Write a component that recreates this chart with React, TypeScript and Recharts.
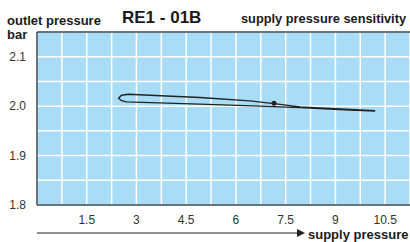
import {
  ComposedChart,
  Line,
  XAxis,
  YAxis,
  CartesianGrid,
  ReferenceLine,
  ReferenceDot,
} from 'recharts';

// hysteresis loop, in drawing order
const supply = [10.2, 9.44, 7.93, 7.15, 6.42, 4.91, 3.4, 2.76, 2.55, 2.46, 2.55, 2.7, 4.91, 6.72, 7.93, 9.44, 10.2];
const outlet = [1.991, 1.9934, 1.9986, 2.005, 2.0106, 2.0175, 2.022, 2.024, 2.022, 2.016, 2.011, 2.0087, 2.004, 2.0, 1.997, 1.992, 1.99];

const xTicks = [0, 0.75, 1.5, 2.25, 3, 3.75, 4.5, 5.25, 6, 6.75, 7.5, 8.25, 9, 9.75, 10.5, 11.25];
const xLabels = [1.5, 3, 4.5, 6, 7.5, 9, 10.5];
const yTicks = [1.8, 1.85, 1.9, 1.95, 2.0, 2.05, 2.1, 2.15];
const yLabels = [1.8, 1.9, 2.0, 2.1];

const marker = { x: 7.15, y: 2.006 };

const data = supply.map((x, i) => ({ x, y: outlet[i] }));

const font = '"Liberation Sans", Arial, sans-serif';
const border = '#3a4850';

const label = (left: number, top: number, size: number) => ({
  position: 'absolute' as const,
  left,
  top,
  fontSize: size,
  fontWeight: 700,
  fontFamily: font,
  color: '#1a1a1a',
  lineHeight: 1,
  whiteSpace: 'nowrap' as const,
});

export default function App() {
  return (
    <div style={{ position: 'absolute', left: 0, top: 0, width: 410, height: 242, overflow: 'hidden', background: '#fff' }}>
      <ComposedChart width={410} height={242} margin={{ top: 32, right: 0, left: 0, bottom: 0 }} data={data}>
        <CartesianGrid fill="#a9ddf5" stroke="#fff" strokeWidth={1.5} />
        <XAxis
          type="number"
          dataKey="x"
          domain={[0, 11.25]}
          ticks={xTicks}
          interval={0}
          tickFormatter={(v: number) => (xLabels.includes(v) ? String(v) : '')}
          tickLine={false}
          axisLine={{ stroke: border, strokeWidth: 1.5 }}
          tick={{ fontSize: 12, fill: '#333', fontFamily: font }}
          tickMargin={4}
          height={37}
        />
        <YAxis
          type="number"
          domain={[1.8, 2.15]}
          ticks={yTicks}
          interval={0}
          tickFormatter={(v: number) => (yLabels.some((l) => Math.abs(l - v) < 1e-6) ? v.toFixed(1) : '')}
          tickLine={false}
          axisLine={{ stroke: border, strokeWidth: 1.5 }}
          tick={{ fontSize: 12, fill: '#333', fontFamily: font }}
          tickMargin={5}
          width={37}
        />
        <ReferenceLine y={2.15} stroke={border} strokeWidth={1.5} />
        <Line
          type="linear"
          dataKey="y"
          stroke="#222"
          strokeWidth={1.4}
          dot={false}
          isAnimationActive={false}
        />
        <ReferenceDot x={marker.x} y={marker.y} r={2.5} fill="#222" stroke="none" />
      </ComposedChart>
      <div style={label(7, 13.5, 13)}>outlet pressure</div>
      <div style={label(7, 27.5, 13)}>bar</div>
      <div style={label(122, 9, 17)}>RE1 - 01B</div>
      <div style={label(241, 13, 12.8)}>supply pressure sensitivity</div>
      <svg style={{ position: 'absolute', left: 0, top: 0 }} width={410} height={242}>
        <line x1={37} y1={233} x2={298} y2={233} stroke="#222" strokeWidth={1.2} />
        <polygon points="297,229 305,233 297,237" fill="#222" />
      </svg>
      <div style={label(308, 228, 13)}>supply pressure</div>
    </div>
  );
}
